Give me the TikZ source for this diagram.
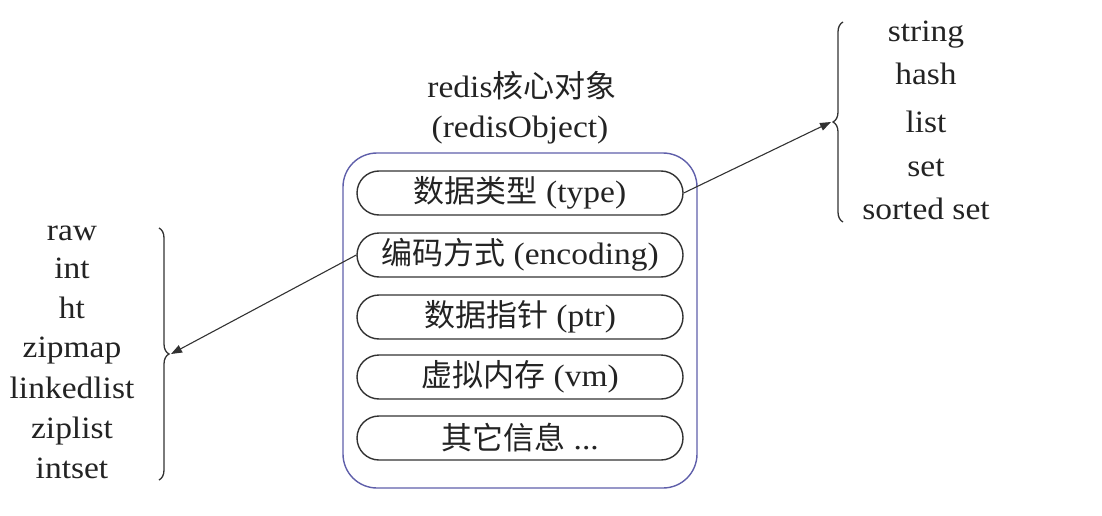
\documentclass[tikz,border=0pt]{standalone}
\usepackage{fontspec}
\setmainfont[FakeStretch=1.08]{Liberation Serif}
\newfontfamily\cjk{Noto Sans CJK SC}
\usetikzlibrary{arrows.meta,decorations.pathreplacing}
\definecolor{txt}{RGB}{35,35,35}
\definecolor{boxblue}{RGB}{95,95,170}
\definecolor{pillline}{RGB}{50,50,50}
\begin{document}
\begin{tikzpicture}[x=1pt,y=-1pt,
  every node/.style={text=txt,font=\fontsize{31}{36}\selectfont,inner sep=0pt},
  outerbox/.style={draw=boxblue,line width=1.4pt,rounded corners=34pt,minimum width=354pt,minimum height=335pt},
  pill/.style={draw=pillline,line width=1.4pt,rounded corners=22pt,minimum width=326pt,minimum height=44pt},
  item/.style={anchor=base},
  conn/.style={draw=pillline,line width=1.1pt,-{Triangle[length=11pt,width=8pt]}},
  bracestyle/.style={draw=pillline,line width=1.3pt,decorate,decoration={brace,amplitude=10pt}}
]
\useasboundingbox (0,0) rectangle (1102,516);
% title
\node[item] (t1) at (522,98) {redis{\cjk 核心对象}};
\node[item] (t2) at (520,137) {(redisObject)};
% outer box
\node[outerbox] (obj) at (520,320.5) {};
% pills
\node[pill] (ptype) at (520,193) {{\cjk 数据类型} (type)};
\node[pill] (penc) at (520,255) {{\cjk 编码方式} (encoding)};
\node[pill] (pptr) at (520,317) {{\cjk 数据指针} (ptr)};
\node[pill] (pvm) at (520,377) {{\cjk 虚拟内存} (vm)};
\node[pill] (poth) at (520,438) {{\cjk 其它信息} ...};
% right list
\node[item] (r1) at (926,42) {string};
\node[item] (r2) at (926,85) {hash};
\node[item] (r3) at (926,132) {list};
\node[item] (r4) at (926,176) {set};
\node[item] (r5) at (926,219) {sorted set};
% left list
\node[item] (l1) at (72,240) {raw};
\node[item] (l2) at (72,278) {int};
\node[item] (l3) at (72,318) {ht};
\node[item] (l4) at (72,357) {zipmap};
\node[item] (l5) at (72,398) {linkedlist};
\node[item] (l6) at (72,438) {ziplist};
\node[item] (l7) at (72,478) {intset};
% braces
\coordinate (rbB) at (843,222);
\coordinate (rbT) at (843,22);
\coordinate (rtip) at (831,122);
\draw[bracestyle] (rbB) -- (rbT);
\coordinate (lbT) at (159,228);
\coordinate (lbB) at (159,480);
\coordinate (ltip) at (171,354);
\draw[bracestyle] (lbT) -- (lbB);
% connectors
\draw[conn] (ptype.east) -- (rtip);
\draw[conn] (penc.west) -- (ltip);
\end{tikzpicture}
\end{document}
